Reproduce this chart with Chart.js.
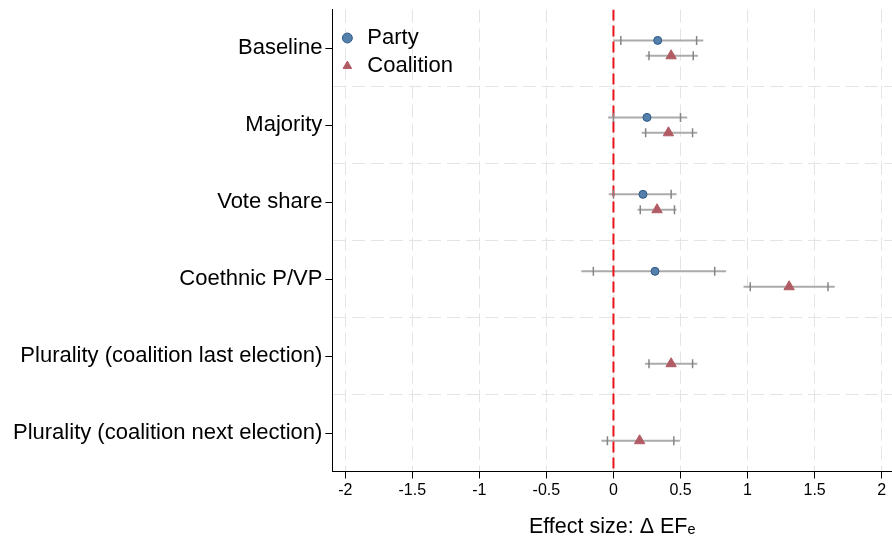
<!DOCTYPE html>
<html>
<head>
<meta charset="utf-8">
<script src="https://cdn.jsdelivr.net/npm/chart.js@4.4.1/dist/chart.umd.min.js"></script>
<style>
  html, body { margin: 0; padding: 0; background: #fff; }
  #wrap { width: 892px; height: 543px; }
</style>
</head>
<body>
<div id="wrap"><canvas id="chart"></canvas></div>
<script>
// data
const categories = ['Baseline', 'Majority', 'Vote share', 'Coethnic P/VP',
    'Plurality (coalition last election)', 'Plurality (coalition next election)'];
const xTicks = [-2, -1.5, -1, -0.5, 0, 0.5, 1, 1.5, 2];

const partyEst  = [0.33, 0.25, 0.22, 0.31, null, null];
const partyLo95 = [0.00, -0.04, -0.035, -0.24, null, null];
const partyHi95 = [0.67, 0.55, 0.47, 0.84, null, null];
const partyLo90 = [0.055, 0.0, 0.0, -0.15, null, null];
const partyHi90 = [0.62, 0.50, 0.43, 0.755, null, null];

const coalEst  = [0.43, 0.41, 0.325, 1.31, 0.43, 0.195];
const coalLo95 = [0.24, 0.21, 0.18, 0.97, 0.235, -0.09];
const coalHi95 = [0.63, 0.625, 0.47, 1.65, 0.625, 0.495];
const coalLo90 = [0.265, 0.24, 0.20, 1.02, 0.265, -0.045];
const coalHi90 = [0.595, 0.59, 0.455, 1.60, 0.59, 0.45];

const FONT = "'Liberation Sans', Arial, sans-serif";
const yMin = -0.5, yMax = 5.5;
const partyShift = -0.1, coalShift = 0.1;

function ciLines(lo, hi, shift) {
    const out = [];
    lo.forEach((l, i) => {
        if (l === null) return;
        out.push({
            type: 'line',
            data: [{ x: l, y: i + shift }, { x: hi[i], y: i + shift }],
            borderColor: '#ababab',
            borderWidth: 2,
            pointRadius: 0,
            order: 4
        });
    });
    return out;
}

function capMarks(lo, hi, shift) {
    const pts = [];
    lo.forEach((l, i) => {
        if (l === null) return;
        pts.push({ x: l, y: i + shift }, { x: hi[i], y: i + shift });
    });
    return {
        type: 'scatter',
        data: pts,
        pointStyle: 'line',
        rotation: 90,
        pointRadius: 4.5,
        pointBorderColor: '#858585',
        pointBorderWidth: 1.5,
        order: 2
    };
}

function markers(est, shift) {
    return est.map((v, i) => v === null ? null : { x: v, y: i + shift }).filter(Boolean);
}

const datasets = [
    {
        type: 'scatter', label: 'Party', inLegend: true,
        data: markers(partyEst, partyShift),
        pointStyle: 'circle', pointRadius: 4,
        backgroundColor: '#5480ab', borderColor: '#2c5a86',
        pointBackgroundColor: '#5480ab', pointBorderColor: '#2c5a86',
        borderWidth: 1, pointBorderWidth: 1, order: 0
    },
    {
        type: 'scatter', label: 'Coalition', inLegend: true,
        data: markers(coalEst, coalShift),
        pointStyle: 'triangle', pointRadius: 6,
        backgroundColor: '#b15c64', borderColor: '#b15c64',
        pointBackgroundColor: '#b15c64', pointBorderColor: '#b15c64',
        borderWidth: 1, pointBorderWidth: 1, order: 1
    },
    capMarks(partyLo90, partyHi90, partyShift),
    capMarks(coalLo90, coalHi90, coalShift),
    {
        type: 'line',
        data: [{ x: 0, y: yMin }, { x: 0, y: yMax }],
        borderColor: '#e8141c', borderWidth: 2, borderDash: [11, 5],
        pointRadius: 0, order: 3
    },
    ...ciLines(partyLo95, partyHi95, partyShift),
    ...ciLines(coalLo95, coalHi95, coalShift)
];

new Chart(document.getElementById('chart'), {
    type: 'scatter',
    data: { datasets },
    options: {
        responsive: true,
        maintainAspectRatio: false,
        animation: false,
        layout: { autoPadding: false, padding: { left: 10, top: 9.5, right: 0, bottom: 0 } },
        plugins: {
            tooltip: { enabled: false },
            legend: {
                position: 'chartArea',
                align: 'start',
                title: { display: true, text: '', font: { size: 10, lineHeight: 1 }, padding: { top: 11, bottom: 0 } },
                labels: {
                    usePointStyle: true,
                    boxWidth: 18,
                    boxHeight: 7,
                    padding: 6,
                    color: '#000',
                    font: { family: FONT, size: 22 },
                    filter: (item, data) => !!data.datasets[item.datasetIndex].inLegend
                }
            }
        },
        scales: {
            x: {
                type: 'linear',
                min: -2.096,
                max: 2.077,
                afterBuildTicks: s => { s.ticks = xTicks.map(v => ({ value: v })); },
                ticks: {
                    callback: v => String(v),
                    color: '#000',
                    padding: 2,
                    font: { family: FONT, size: 16 }
                },
                grid: {
                    color: '#e4e4e4',
                    lineWidth: 1,
                    tickLength: 7,
                    tickColor: '#000',
                    tickWidth: 1
                },
                border: { display: true, color: '#000', width: 1, dash: [13, 6] },
                title: {
                    display: true,
                    text: 'Effect size: \u0394 EF\u2091',
                    color: '#000',
                    font: { family: FONT, size: 21.5 },
                    padding: { top: 12.5, bottom: 3 }
                }
            },
            y: {
                type: 'linear',
                reverse: true,
                min: yMin,
                max: yMax,
                afterBuildTicks: s => {
                    const t = [];
                    categories.forEach((c, i) => {
                        t.push({ value: i });
                        if (i < categories.length - 1) t.push({ value: i + 0.5 });
                    });
                    s.ticks = t;
                },
                ticks: {
                    autoSkip: false,
                    callback: v => Number.isInteger(v) ? categories[v] : '',
                    color: '#000',
                    padding: 3,
                    font: { family: FONT, size: 22, lineHeight: 0.6 }
                },
                grid: {
                    color: c => Number.isInteger(c.tick.value) ? 'rgba(0,0,0,0)' : '#e4e4e4',
                    tickColor: c => Number.isInteger(c.tick.value) ? '#000' : 'rgba(0,0,0,0)',
                    lineWidth: 1,
                    tickLength: 7,
                    tickWidth: 1
                },
                border: { display: true, color: '#000', width: 1, dash: [13, 6] }
            }
        }
    }
});
</script>
</body>
</html>
